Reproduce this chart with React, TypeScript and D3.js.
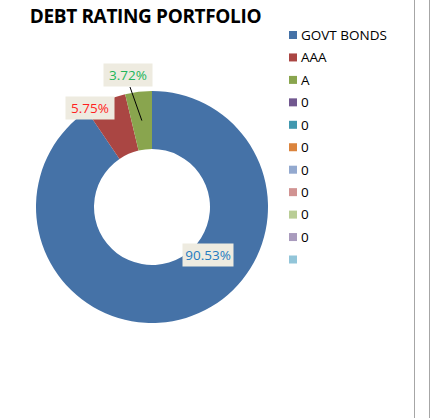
import React from "react";
import * as d3 from "d3";

const categories = ["GOVT BONDS", "AAA", "A"];
const values = [90.53, 5.75, 3.72];
const labels = ["90.53%", "5.75%", "3.72%"];
const legendLabels = ["GOVT BONDS", "AAA", "A", "0", "0", "0", "0", "0", "0", "0", ""];

const palette = ["#4572A7", "#AA4643", "#89A54E", "#71588F", "#4198AF", "#DB843D", "#93A9CF", "#D19392", "#B9CD96", "#A99BBD", "#92C5D9"];
const labelColors = ["#1f7cc0", "#ff1f1f", "#22b55a"];

const W = 430, H = 418;
const cx = 152, cy = 207, outerR = 116, innerR = 58;
// label box centres relative to pie centre
const labelPos = [[56, 48], [-62, -99], [-24, -132]];

export default function App() {
  const pie = d3.pie<number>().sort(null).value((d) => d)(values);
  const arc = d3.arc<d3.PieArcDatum<number>>().innerRadius(innerR).outerRadius(outerR);
  const midArc = d3.arc<d3.PieArcDatum<number>>().innerRadius(87).outerRadius(87);
  const legendY = d3.scaleLinear().domain([0, 10]).range([35, 259.5]);
  return (
    <svg width={W} height={H} style={{ position: "absolute", left: 0, top: 0, fontFamily: "'Open Sans', sans-serif" }}>
      <rect width={W} height={H} fill="#fff" />
      <line x1={414.5} x2={414.5} y1={0} y2={H} stroke="#a6a6a6" strokeWidth={1} />
      <line x1={429.5} x2={429.5} y1={0} y2={H} stroke="#a6a6a6" strokeWidth={1} />
      <text x={145.5} y={22.5} textAnchor="middle" fontSize={19} fontWeight="bold" fill="#000" style={{ fontFamily: "'Open Sans', sans-serif", letterSpacing: "-0.35px" }}>DEBT RATING PORTFOLIO</text>
      <g transform={`translate(${cx},${cy})`}>
        {pie.map((p, i) => (
          <path key={categories[i]} d={arc(p) || ""} fill={palette[i]} />
        ))}
        {pie.map((p, i) => {
          const [lx, ly] = labelPos[i];
          const c = midArc.centroid(p);
          const w = i === 0 ? 51 : 49;
          return (
            <g key={"l" + i}>
              {i === 2 && <line x1={lx + 2} y1={ly + 12} x2={c[0]} y2={c[1]} stroke="#000" strokeWidth={1} />}
              <rect x={lx - w / 2} y={ly - 11.5} width={w} height={23} fill="#eeebe0" />
              <text x={lx} y={ly + 4.8} textAnchor="middle" fontSize={13.5} fill={labelColors[i]}>{labels[i]}</text>
            </g>
          );
        })}
      </g>
      {legendLabels.map((t, i) => (
        <g key={"lg" + i} transform={`translate(289,${legendY(i)})`}>
          <rect x={0} y={-4} width={8} height={8} fill={palette[i]} />
          <text x={12} y={4.8} fontSize={13.5} fill="#000">{t}</text>
        </g>
      ))}
    </svg>
  );
}
